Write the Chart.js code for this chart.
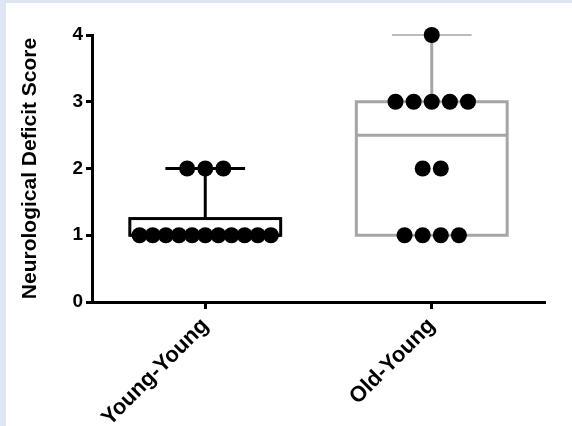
<!DOCTYPE html>
<html><head><meta charset="utf-8">
<script src="https://cdn.jsdelivr.net/npm/chart.js@4/dist/chart.umd.min.js"></script>
<style>
html,body{margin:0;padding:0;background:#dde6f4;width:572px;height:426px;overflow:hidden}
#wrap{position:absolute;left:6px;top:3px;width:566px;height:423px;background:#fff}
canvas{display:block}
</style></head><body>
<div id="wrap"><canvas id="c" width="566" height="423"></canvas></div>
<script>
// ---- data ----
const categories = ['Young-Young', 'Old-Young'];
const youngYoung = [1,1,1,1,1,1,1,1,1,1,1,2,2,2];
const oldYoung = [1,1,1,1,2,2,3,3,3,3,3,4];
const boxMin = [1, 1];
const boxQ1 = [1, 1];
const boxMedian = [1, 2.5];
const boxQ3 = [1.25, 3];
const boxMax = [2, 4];
const yTicks = [0, 1, 2, 3, 4];

// ---- styles ----
const groupColors = ['#000000', '#a5a5a5'];
const capWidths = [3, 1.6];
const BOX_HALF = 0.333;
const CAP_HALF = 0.176;
const DOT_STEP = 0.08;
const MAX_SPREAD = 0.58;
const FONT = 'Liberation Sans, Arial, sans-serif';

function spread(values, idx) {
  const counts = {};
  values.forEach(v => counts[v] = (counts[v] || 0) + 1);
  const seen = {};
  return values.map(v => {
    const n = counts[v];
    const k = seen[v] = (seen[v] === undefined ? 0 : seen[v] + 1);
    const step = n > 1 ? Math.min(DOT_STEP, MAX_SPREAD / (n - 1)) : 0;
    return { x: idx + (k - (n - 1) / 2) * step, y: v };
  });
}

const boxPlugin = {
  id: 'boxes',
  beforeDatasetsDraw(chart) {
    const { ctx, scales: { x, y } } = chart;
    ctx.save();
    ctx.lineJoin = 'miter';
    ctx.lineCap = 'butt';
    categories.forEach((c, i) => {
      const xl = x.getPixelForValue(i - BOX_HALF), xr = x.getPixelForValue(i + BOX_HALF);
      const xc = x.getPixelForValue(i);
      const cl = x.getPixelForValue(i - CAP_HALF), cr = x.getPixelForValue(i + CAP_HALF);
      const yq1 = y.getPixelForValue(boxQ1[i]), yq3 = y.getPixelForValue(boxQ3[i]);
      const ym = y.getPixelForValue(boxMedian[i]);
      const ymin = y.getPixelForValue(boxMin[i]), ymax = y.getPixelForValue(boxMax[i]);
      ctx.strokeStyle = groupColors[i];
      ctx.lineWidth = 3;
      ctx.strokeRect(xl, yq3, xr - xl, yq1 - yq3);
      ctx.beginPath();
      ctx.moveTo(xl, ym); ctx.lineTo(xr, ym);
      ctx.moveTo(xc, yq3); ctx.lineTo(xc, ymax);
      ctx.moveTo(xc, yq1); ctx.lineTo(xc, ymin);
      ctx.stroke();
      ctx.lineWidth = capWidths[i];
      ctx.beginPath();
      ctx.moveTo(cl, ymax); ctx.lineTo(cr, ymax);
      ctx.moveTo(cl, ymin); ctx.lineTo(cr, ymin);
      ctx.stroke();
    });
    ctx.restore();
  }
};

const PAD_LEFT = 12, PAD_TOP = 32, PAD_RIGHT = 27;
const AXIS_LEFT = 86, AXIS_BOTTOM = 299, H = 423;

new Chart(document.getElementById('c'), {
  type: 'scatter',
  data: {
    datasets: [
      { data: spread(youngYoung, 0) },
      { data: spread(oldYoung, 1) }
    ].map(d => Object.assign(d, {
      pointRadius: 8, pointHoverRadius: 8, backgroundColor: '#000', borderWidth: 0, clip: false
    }))
  },
  options: {
    responsive: false,
    animation: false,
    events: [],
    layout: { padding: { left: PAD_LEFT, top: PAD_TOP, right: PAD_RIGHT, bottom: 0 } },
    plugins: { legend: { display: false }, tooltip: { enabled: false } },
    scales: {
      x: {
        type: 'linear', min: -0.5, max: 1.5,
        afterBuildTicks: s => { s.ticks = categories.map((c, i) => ({ value: i })); },
        afterFit: s => { s.height = H - AXIS_BOTTOM; },
        ticks: {
          callback: v => categories[v],
          font: { family: FONT, weight: 'bold', size: 22 },
          color: '#000', minRotation: 45, maxRotation: 45, padding: 4, autoSkip: false
        },
        grid: { display: true, drawOnChartArea: false, drawTicks: true, tickLength: 7, tickWidth: 3, tickColor: '#000' },
        border: { display: true, color: '#000', width: 3 }
      },
      y: {
        type: 'linear', min: 0, max: 4,
        afterBuildTicks: s => { s.ticks = yTicks.map(v => ({ value: v })); },
        afterFit: s => { s.width = AXIS_LEFT - PAD_LEFT; },
        ticks: {
          font: { family: FONT, weight: 'bold', size: 19 },
          color: '#000', padding: 3
        },
        grid: { display: true, drawOnChartArea: false, drawTicks: true, tickLength: 6, tickWidth: 3, tickColor: '#000' },
        border: { display: true, color: '#000', width: 3 },
        title: {
          display: true, text: 'Neurological Deficit Score', color: '#000',
          font: { family: FONT, weight: 'bold', size: 21 },
          padding: { top: 0, bottom: 0 }
        }
      }
    }
  },
  plugins: [boxPlugin]
});
</script>
</body></html>
